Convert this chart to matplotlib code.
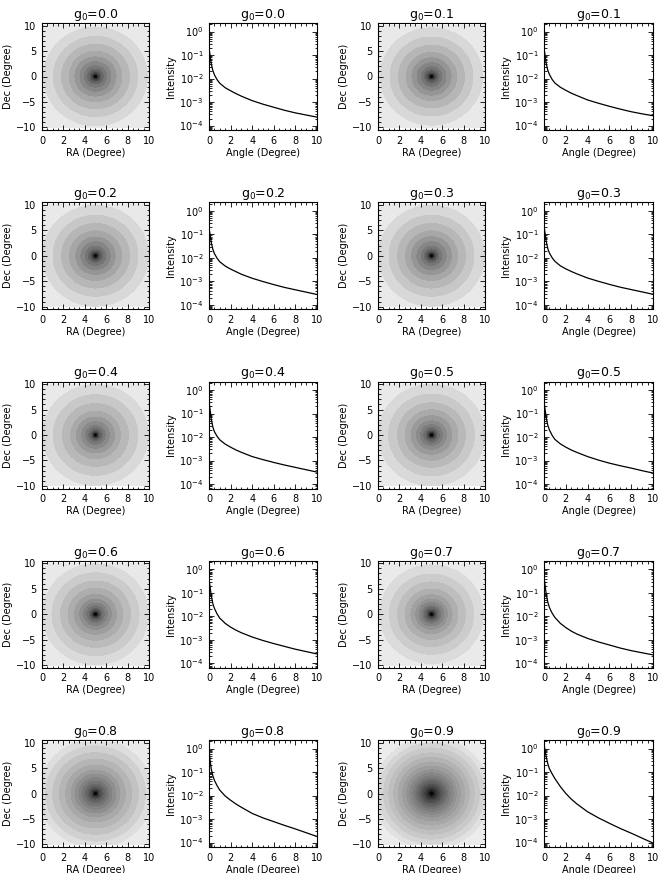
#!/usr/bin/env python3
import numpy as np
import matplotlib
matplotlib.use('Agg')
import matplotlib.pyplot as plt
from matplotlib import font_manager
from matplotlib.colors import ListedColormap, Normalize
from matplotlib.ticker import MultipleLocator, LogLocator, NullFormatter

# pick a narrow sans font if there is one (IDL-like look)
names = set(f.name for f in font_manager.fontManager.ttflist)
fam = 'Liberation Sans Narrow' if 'Liberation Sans Narrow' in names else 'DejaVu Sans'
plt.rcParams['font.family'] = [fam, 'DejaVu Sans']
plt.rcParams['mathtext.default'] = 'regular'

# asymmetry parameters, one pair of panels each
g_values = [0.0, 0.1, 0.2, 0.3, 0.4, 0.5, 0.6, 0.7, 0.8, 0.9]

# angle grid (degree) where the curves were read
angles = [0.05, 0.2, 0.35, 0.5, 0.75, 1, 1.5, 2, 2.5, 3, 4, 5, 6, 7, 8, 9, 10]

# log10(intensity)
logI_g00 = [-0.86, -1.35, -1.65, -1.84, -2.05, -2.20, -2.39, -2.52, -2.64, -2.75, -2.94, -3.09, -3.22, -3.35, -3.46, -3.55, -3.64]
logI_g01 = [-0.86, -1.35, -1.65, -1.83, -2.04, -2.19, -2.37, -2.50, -2.62, -2.72, -2.91, -3.05, -3.18, -3.30, -3.41, -3.50, -3.58]
logI_g02 = [-0.86, -1.33, -1.63, -1.82, -2.02, -2.17, -2.35, -2.48, -2.59, -2.70, -2.87, -3.01, -3.14, -3.26, -3.36, -3.46, -3.56]
logI_g03 = [-0.80, -1.30, -1.61, -1.80, -2.00, -2.15, -2.34, -2.47, -2.58, -2.68, -2.86, -3.00, -3.13, -3.25, -3.35, -3.45, -3.55]
logI_g04 = [-0.65, -1.22, -1.56, -1.77, -1.97, -2.12, -2.30, -2.43, -2.55, -2.65, -2.83, -2.96, -3.08, -3.19, -3.29, -3.39, -3.49]
logI_g05 = [-0.65, -1.17, -1.50, -1.70, -1.93, -2.10, -2.29, -2.43, -2.55, -2.65, -2.83, -2.98, -3.11, -3.22, -3.32, -3.43, -3.53]
logI_g06 = [-0.58, -1.10, -1.45, -1.66, -1.90, -2.08, -2.30, -2.46, -2.59, -2.70, -2.88, -3.03, -3.16, -3.28, -3.40, -3.50, -3.60]
logI_g07 = [-0.51, -1.05, -1.40, -1.63, -1.87, -2.05, -2.30, -2.48, -2.63, -2.75, -2.94, -3.09, -3.22, -3.35, -3.46, -3.55, -3.64]
logI_g08 = [-0.30, -0.85, -1.15, -1.35, -1.58, -1.77, -2.02, -2.20, -2.36, -2.50, -2.76, -2.95, -3.11, -3.27, -3.42, -3.58, -3.74]
logI_g09 = [0.05, -0.35, -0.65, -0.86, -1.08, -1.28, -1.62, -1.91, -2.15, -2.35, -2.69, -2.95, -3.18, -3.40, -3.60, -3.81, -4.02]

profiles = [logI_g00, logI_g01, logI_g02, logI_g03, logI_g04,
            logI_g05, logI_g06, logI_g07, logI_g08, logI_g09]

W, H = 659, 873
fig = plt.figure(figsize=(W / 100, H / 100), dpi=100)

# grey ramp: light grey at the faint end, black at the peak
ramp = 0.945 * (1 - np.linspace(0, 1, 256)) ** 1.15
cmap = ListedColormap(np.column_stack([ramp, ramp, ramp]))

# map of the sky: RA 0..10, Dec -10..10, circles centred at (5, 0)
ra = np.linspace(0, 10, 241)
dec = np.linspace(-10, 10, 241)
RA, DEC = np.meshgrid(ra, dec)
R = 0.85 * np.hypot((RA - 5) * 2, DEC)

col_x = [42, 209, 378, 544]
col_w = [107, 108, 107, 109]
row_top0, row_step, box_h = 23, 179.25, 107


def style_box(ax):
    ax.tick_params(which='both', direction='in', top=True, right=True,
                   labelsize=7, pad=4, width=0.6)
    ax.tick_params(which='major', length=3.5)
    ax.tick_params(which='minor', length=1.8)
    for s in ax.spines.values():
        s.set_linewidth(0.8)


for i, (g, prof) in enumerate(zip(g_values, profiles)):
    row, pair = i // 2, i % 2
    top = row_top0 + row * row_step
    title = 'g$_0$=%.1f' % g

    # image panel
    cx, cw = col_x[pair * 2], col_w[pair * 2]
    ax = fig.add_axes([cx / W, 1 - (top + box_h) / H, cw / W, box_h / H])
    logmap = np.interp(R, angles, prof)
    lo, hi = min(prof) - 0.01, max(prof) + 0.01
    levels = np.arange(lo, hi + 0.17, 0.17)
    ax.contourf(RA, DEC, logmap, levels=levels, cmap=cmap,
                norm=Normalize(vmin=lo, vmax=hi))
    ax.set_xlim(0, 10)
    ax.set_ylim(-10.5, 10.5)
    ax.xaxis.set_major_locator(MultipleLocator(2))
    ax.xaxis.set_minor_locator(MultipleLocator(0.5))
    ax.yaxis.set_major_locator(MultipleLocator(5))
    ax.yaxis.set_minor_locator(MultipleLocator(1))
    style_box(ax)
    ax.set_xlabel('RA (Degree)', fontsize=7, labelpad=1.5)
    ax.set_ylabel('Dec (Degree)', fontsize=7, labelpad=2)
    ax.set_title(title, fontsize=9, pad=2)

    # profile panel
    cx, cw = col_x[pair * 2 + 1], col_w[pair * 2 + 1]
    ax = fig.add_axes([cx / W, 1 - (top + box_h) / H, cw / W, box_h / H])
    ax.plot(angles, 10 ** np.array(prof), color='black', lw=0.9)
    ax.set_yscale('log')
    ax.set_xlim(0, 10)
    ax.set_ylim(6.5e-5, 2.3)
    ax.xaxis.set_major_locator(MultipleLocator(2))
    ax.xaxis.set_minor_locator(MultipleLocator(0.5))
    ax.yaxis.set_major_locator(LogLocator(base=10, numticks=10))
    ax.yaxis.set_minor_locator(LogLocator(base=10, subs=np.arange(2, 10), numticks=10))
    ax.yaxis.set_minor_formatter(NullFormatter())
    style_box(ax)
    ax.set_xlabel('Angle (Degree)', fontsize=7, labelpad=1.5)
    ax.set_ylabel('Intensity', fontsize=7, labelpad=2)
    ax.set_title(title, fontsize=9, pad=2)

fig.savefig('out.png', dpi=100)
